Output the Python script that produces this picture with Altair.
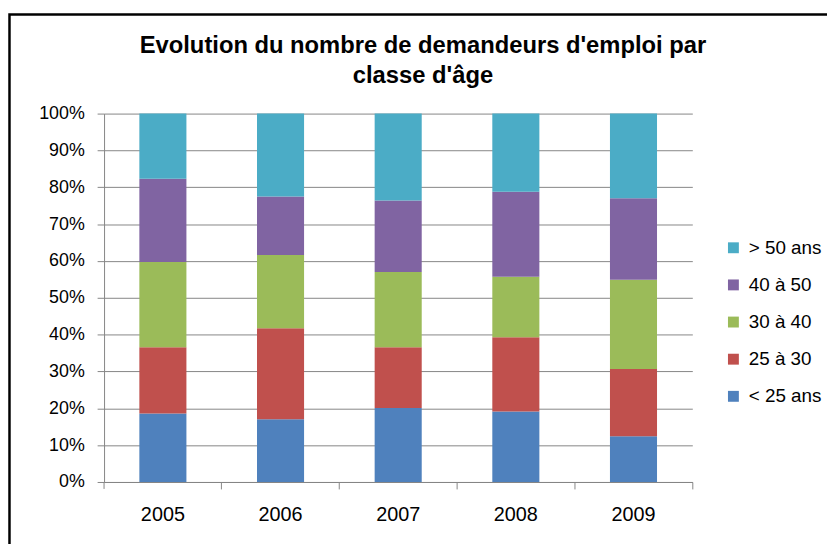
import altair as alt
import pandas as pd

years = ["2005", "2006", "2007", "2008", "2009"]
groups = ["< 25 ans", "25 à 30", "30 à 40", "40 à 50", "> 50 ans"]
lt25 = [18.6, 17.0, 20.1, 19.1, 12.4]
a25_30 = [18.0, 24.7, 16.5, 20.2, 18.3]
a30_40 = [23.1, 19.9, 20.4, 16.4, 24.2]
a40_50 = [22.6, 15.9, 19.4, 23.1, 22.1]
gt50 = [17.7, 22.5, 23.6, 21.2, 23.0]
colors = ["#4F81BD", "#C0504D", "#9BBB59", "#8064A2", "#4BACC6"]
y_ticks = [0, 0.1, 0.2, 0.3, 0.4, 0.5, 0.6, 0.7, 0.8, 0.9, 1.0]
title_lines = ["Evolution du nombre de demandeurs d'emploi par", "classe d'âge"]

series = [lt25, a25_30, a30_40, a40_50, gt50]
rows = []
for gi, (g, vals) in enumerate(zip(groups, series)):
    for yr, v in zip(years, vals):
        rows.append({"annee": yr, "classe": g, "part": v, "ordre": gi})
df = pd.DataFrame(rows)

FONT = "Liberation Sans"
GRAY = "#868686"

bars = alt.Chart(df).mark_bar(stroke=None).encode(
    x=alt.X("annee:N", title=None,
            scale=alt.Scale(paddingInner=0.6, paddingOuter=0.3),
            axis=alt.Axis(labelAngle=0, bandPosition=1.75, tickSize=7,
                          labelPadding=16, labelFontSize=20, labelFont=FONT,
                          labelColor="black", tickColor=GRAY, domainColor=GRAY,
                          grid=False)),
    y=alt.Y("part:Q", stack="normalize", title=None,
            scale=alt.Scale(domain=[0, 1], nice=False),
            axis=alt.Axis(values=y_ticks, format=".0%", tickSize=7,
                          labelPadding=13, labelFontSize=18, labelFont=FONT,
                          labelColor="black", tickColor=GRAY, domainColor=GRAY,
                          gridColor=GRAY, grid=True)),
    color=alt.Color("classe:N",
                    scale=alt.Scale(domain=groups[::-1], range=colors[::-1]),
                    legend=alt.Legend(title=None, orient="none", legendX=626, legendY=126,
                                      symbolType="square", symbolSize=121,
                                      symbolStrokeWidth=0, labelFontSize=19,
                                      labelFont=FONT, labelColor="black",
                                      labelOffset=6, rowPadding=17.5, padding=0)),
    order=alt.Order("ordre:Q", sort="ascending"),
)

deco = alt.Data(values=[{"k": 1}])
left_tick = alt.Chart(deco).mark_rule(color=GRAY, strokeWidth=1).encode(
    x=alt.value(0), y=alt.value(372), y2=alt.value(379)
)
frame = alt.Chart(deco).mark_rect(fill=None, stroke="black", strokeWidth=2.5, clip=False).encode(
    x=alt.value(-95.5), y=alt.value(-100), x2=alt.value(900), y2=alt.value(700)
)
title = alt.Chart(alt.Data(values=[{"t": title_lines}])).mark_text(
    font=FONT, fontSize=24, fontWeight="bold", color="black",
    align="center", baseline="alphabetic", lineHeight=30, clip=False
).encode(x=alt.value(322), y=alt.value(-61), text="t:N")

chart = alt.layer(bars, left_tick, frame, title).properties(
    width=594, height=372,
    autosize=alt.AutoSizeParams(type="none"),
    padding={"left": 97, "top": 104, "right": 136, "bottom": 60},
    background="white",
).configure_view(stroke=None)

chart.save("out.html", embed_options={"renderer": "svg", "actions": False})
